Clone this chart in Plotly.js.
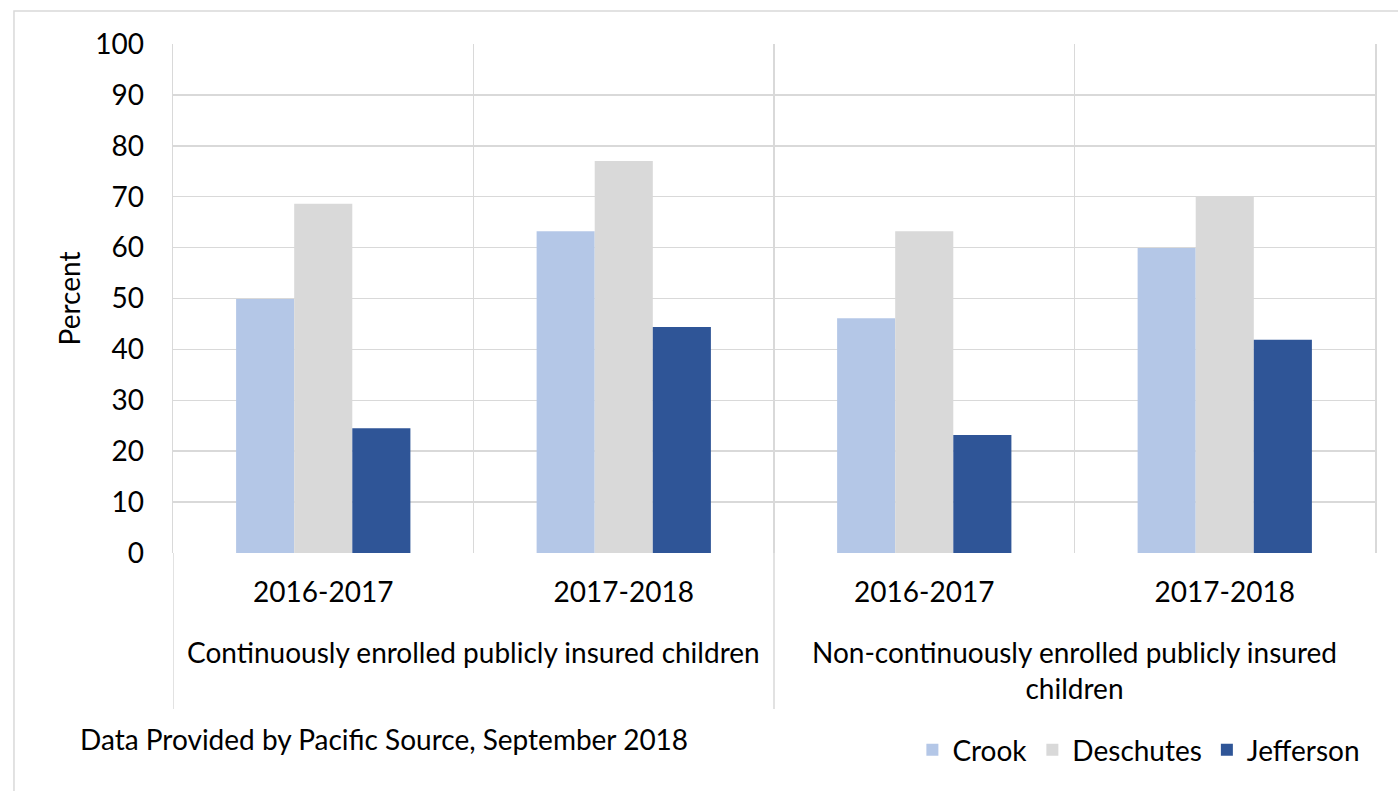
<!DOCTYPE html>
<html>
<head>
<meta charset="utf-8">
<script src="https://cdn.plot.ly/plotly-3.0.1.min.js"></script>
<style>html,body{margin:0;padding:0;background:#fff;}#chart{width:1398px;height:791px;}</style>
</head>
<body>
<div id="chart"></div>
<script>
const groups = ["Continuously enrolled publicly insured children", "Continuously enrolled publicly insured children",
                "Non-continuously enrolled publicly insured<br>children", "Non-continuously enrolled publicly insured<br>children"];
const years = ["2016-2017", "2017-2018", "2016-2017", "2017-2018"];
const crook = [49.9, 63.2, 46.1, 59.9];
const deschutes = [68.6, 77.0, 63.2, 70.0];
const jefferson = [24.5, 44.4, 23.2, 41.9];
const seriesNames = ["Crook", "Deschutes", "Jefferson"];
const seriesColors = ["#B4C7E7", "#D9D9D9", "#2F5597"];
const yTicks = [0, 10, 20, 30, 40, 50, 60, 70, 80, 90, 100];
const sourceNote = "Data Provided by Pacific Source, September 2018";

const FONT = "Lato, 'Open Sans', sans-serif";
const FS = 28;
const GRID = "#D9D9D9";
const pos = years.map((_, i) => i);
const vals = [crook, deschutes, jefferson];
const traces = vals.map((v, i) => ({
  type: "bar",
  name: seriesNames[i],
  x: pos,
  y: v,
  marker: {color: seriesColors[i]},
  hoverinfo: "y"
}));

// group labels (centred over their categories) and divider lines at group starts
const uniqueGroups = [...new Set(groups)];
const annotations = uniqueGroups.map(g => {
  const idx = pos.filter(i => groups[i] === g);
  const c = idx.reduce((a, b) => a + b, 0) / idx.length;
  return {text: g, xref: "x", yref: "paper", x: c, y: -0.158, xanchor: "center", yanchor: "top",
          showarrow: false, align: "center", font: {family: FONT, size: FS, color: "#000"}};
});
annotations.push({
  text: sourceNote, xref: "paper", yref: "paper",
  x: -0.079, xanchor: "left", y: -0.365, yanchor: "middle",
  showarrow: false, font: {family: FONT, size: FS, color: "#000"}
});
const shapes = uniqueGroups.map(g => ({
  type: "line", xref: "x", yref: "paper",
  x0: groups.indexOf(g) - 0.5, x1: groups.indexOf(g) - 0.5, y0: 0, y1: -0.3065,
  line: {color: GRID, width: 1.5}
}));
shapes.push({
  type: "rect", xref: "paper", yref: "paper",
  x0: -0.1323, x1: 1.5, y0: -0.6, y1: 1.0648,
  line: {color: GRID, width: 1.5}, fillcolor: "rgba(0,0,0,0)", layer: "below"
});

const layout = {
  width: 1398, height: 791,
  margin: {l: 173, r: 23, t: 44, b: 238},
  paper_bgcolor: "#fff", plot_bgcolor: "#fff",
  font: {family: FONT, size: FS, color: "#000"},
  barmode: "group",
  bargap: 0.42, bargroupgap: 0,
  showlegend: true,
  legend: {orientation: "h", x: 0.992, xanchor: "right", y: -0.338, yanchor: "top",
           font: {family: FONT, size: FS, color: "#000"}, traceorder: "normal"},
  xaxis: {
    range: [-0.5, years.length - 0.5],
    tickmode: "array", tickvals: pos, ticktext: years,
    showgrid: false, zeroline: false, showline: false, ticks: "",
    ticklabelstandoff: 20,
    minor: {tickmode: "linear", tick0: -0.5, dtick: 1, showgrid: true, gridcolor: GRID, gridwidth: 1.5, ticks: ""},
    tickfont: {family: FONT, size: FS, color: "#000"}
  },
  yaxis: {
    range: [0, 100],
    tickvals: yTicks,
    ticktext: yTicks.map(String),
    showgrid: true, gridcolor: GRID, gridwidth: 1.5,
    zeroline: false, showline: true, linecolor: GRID, linewidth: 1.5, mirror: true,
    ticks: "", ticklabelstandoff: 22,
    tickfont: {family: FONT, size: FS, color: "#000"},
    title: {text: "Percent", font: {family: FONT, size: FS, color: "#000"}, standoff: 6}
  },
  annotations: annotations,
  shapes: shapes
};

Plotly.newPlot("chart", traces, layout, {displayModeBar: false, staticPlot: true});
</script>
</body>
</html>
